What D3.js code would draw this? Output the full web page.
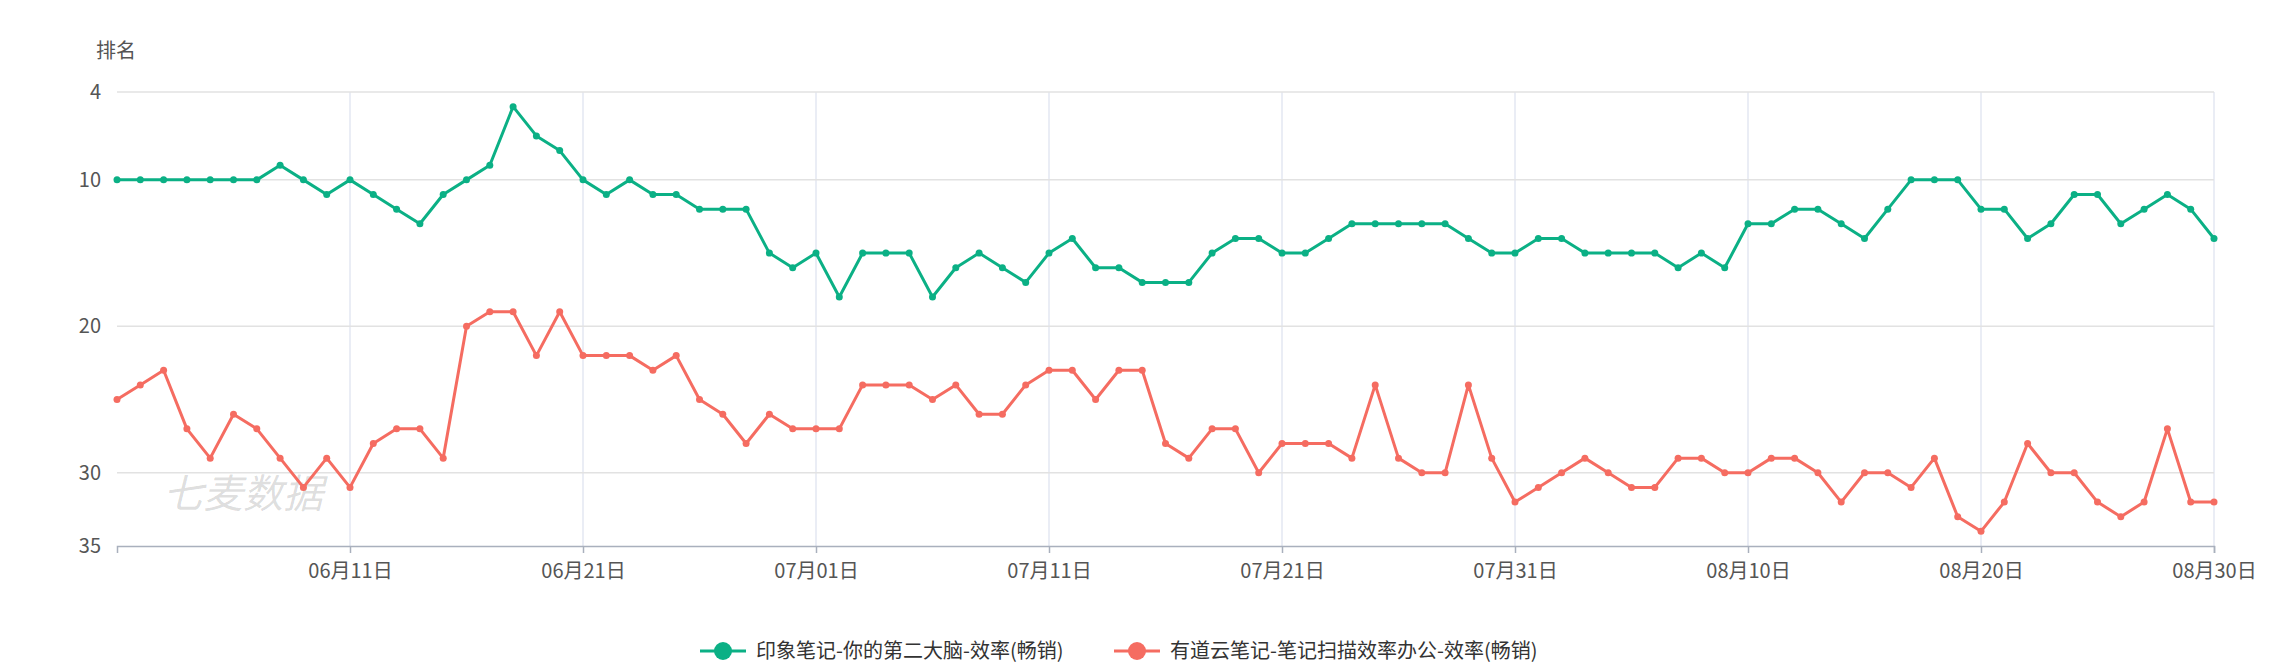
<!DOCTYPE html>
<html>
<head>
<meta charset="utf-8">
<script src="https://cdn.jsdelivr.net/npm/d3@7"></script>
<style>
  body { margin: 0; background: #fff; font-family: "Noto Sans CJK SC", "Noto Sans", sans-serif; }
</style>
</head>
<body>
<div class="chart"></div>
<script>
var startDate = "2023-06-01";
var days = 91;

var tickValues = [4, 10, 20, 30, 35];

var seriesNames = ["印象笔记-你的第二大脑-效率(畅销)", "有道云笔记-笔记扫描效率办公-效率(畅销)"];
var seriesColors = ["#0bb085", "#f56c61"];

var evernote = [10,10,10,10,10,10,10,9,10,11, 10,11,12,13,11,10,9,5,7,8,
  10,11,10,11,11,12,12,12,15,16,
  15,18,15,15,15,18,16,15,16,17, 15,14,16,16,17,17,17,15,14,14,
  15,15,14,13,13,13,13,13,14,15, 15,
  14,14,15,15,15,15,16,15,16, 13,13,12,12,13,14,12,10,10,10,
  12,12,14,13,11,11,13,12,11,12,14];

var youdao = [25,24,23,27,29,26,27,29,31,29, 31,28,27,27,29,20,19,19,22,19,
  22,22,22,23,22,25,26,28,26,27,
  27,27,24,24,24,25,24,26,26,24, 23,23,25,23,23,28,29,27,27,30,
  28,28,28,29,24,29,30,30,24,29, 32,
  31,30,29,30,31,31,29,29,30, 30,29,29,30,32,30,30,31,29,33,
  34,32,28,30,30,32,33,32,27,32,32];

var width = 2269, height = 672;
var margin = { left: 117, right: 55, top: 92, bottom: 126 };

var parse = d3.timeParse("%Y-%m-%d");
var t0 = parse(startDate);
var dates = d3.range(days).map(function(i) { return d3.timeDay.offset(t0, i); });

var svg = d3.select(".chart").append("svg").attr("width", width).attr("height", height);

var x = d3.scaleTime()
  .domain([dates[0], dates[days - 1]])
  .range([margin.left, width - margin.right]);

var y = d3.scaleLinear()
  .domain([4, 35])
  .range([margin.top, height - margin.bottom]);

var xTicks = d3.range(10, days, 10).map(function(i) { return dates[i]; });

// grid
svg.append("g").selectAll("line.v").data(xTicks).enter().append("line")
  .attr("x1", function(d) { return x(d); }).attr("x2", function(d) { return x(d); })
  .attr("y1", margin.top).attr("y2", y(35))
  .attr("stroke", "#e3e7f2").attr("stroke-width", 1.5);

svg.append("g").selectAll("line.h").data(tickValues.slice(0, -1)).enter().append("line")
  .attr("x1", margin.left).attr("x2", width - margin.right)
  .attr("y1", function(d) { return y(d); }).attr("y2", function(d) { return y(d); })
  .attr("stroke", "#e2e2e2").attr("stroke-width", 1.5);

// x axis
var xAxis = svg.append("g").attr("transform", "translate(0," + y(35) + ")")
  .call(d3.axisBottom(x).tickValues(xTicks).tickSize(7).tickFormat(d3.timeFormat("%m月%d日")));
xAxis.select(".domain").attr("stroke", "#a9b0bd").attr("stroke-width", 1.5);
xAxis.selectAll(".tick line").attr("stroke", "#a9b0bd").attr("stroke-width", 1.5);
xAxis.selectAll("text").attr("fill", "#555").attr("font-size", 20).attr("dy", "1.1em")
  .attr("font-family", "Noto Sans CJK SC, sans-serif");

// y axis
var yAxis = svg.append("g").attr("transform", "translate(" + margin.left + ",0)")
  .call(d3.axisLeft(y).tickValues(tickValues).tickSize(0).tickPadding(16));
yAxis.select(".domain").remove();
yAxis.selectAll("text").attr("fill", "#555").attr("font-size", 20)
  .attr("font-family", "Noto Sans CJK SC, sans-serif");

svg.append("text").attr("x", 96).attr("y", 58).text("排名")
  .attr("fill", "#555").attr("font-size", 20);

// watermark
svg.append("text").attr("x", 163).attr("y", 508).text("七麦数据")
  .attr("fill", "#000").attr("fill-opacity", 0.15).attr("font-size", 40)
  .attr("font-style", "italic");

var line = d3.line()
  .x(function(d, i) { return x(dates[i]); })
  .y(function(d) { return y(d); });

[evernote, youdao].forEach(function(s, k) {
  var g = svg.append("g");
  g.append("path").datum(s).attr("d", line)
    .attr("fill", "none").attr("stroke", seriesColors[k]).attr("stroke-width", 3)
    .attr("stroke-linejoin", "round");
  g.selectAll("circle").data(s).enter().append("circle")
    .attr("cx", function(d, i) { return x(dates[i]); })
    .attr("cy", function(d) { return y(d); })
    .attr("r", 3.5).attr("fill", seriesColors[k]);
});

// legend
var legend = svg.append("g").attr("transform", "translate(700,651)");
var lx = [0, 414];
seriesNames.forEach(function(n, k) {
  var g = legend.append("g").attr("transform", "translate(" + lx[k] + ",0)");
  g.append("line").attr("x1", 0).attr("x2", 46).attr("y1", 0).attr("y2", 0)
    .attr("stroke", seriesColors[k]).attr("stroke-width", 3);
  g.append("circle").attr("cx", 23).attr("cy", 0).attr("r", 9).attr("fill", seriesColors[k]);
  g.append("text").attr("x", 56).attr("y", 7).text(n)
    .attr("fill", "#333").attr("font-size", 20);
});
</script>
</body>
</html>
